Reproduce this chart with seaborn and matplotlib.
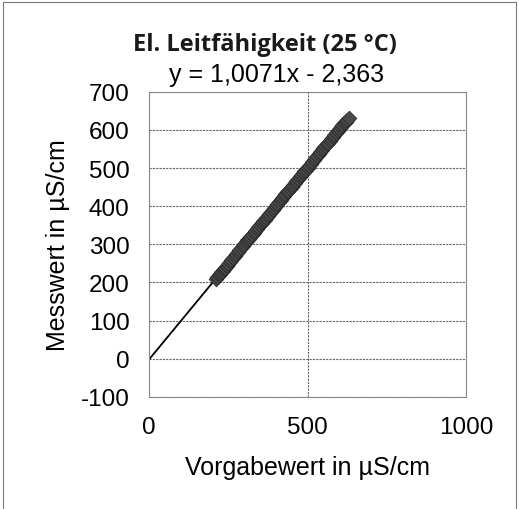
import matplotlib
matplotlib.use("Agg")
import matplotlib.pyplot as plt
import seaborn as sns
import numpy as np
import pandas as pd
from matplotlib.patches import Rectangle

# Data
vorgabe = [212, 216, 220, 224, 228, 232, 236, 240, 245, 250, 255, 260, 265,
           270, 275, 280, 285, 290, 295, 300, 305, 310, 315, 320, 325, 330,
           335, 340, 345, 350, 355, 360, 365, 370, 375, 380, 385, 390, 395,
           400, 405, 410, 415, 420, 425, 430, 435, 440, 445, 450, 455, 460,
           465, 470, 475, 480, 485, 490, 495, 500, 505, 510, 515, 520, 525,
           530, 535, 540, 545, 550, 555, 560, 565, 570, 575, 580, 585, 590,
           595, 600, 605, 610, 615, 620, 625, 630]
messwert = [210, 215, 219, 223, 227, 231, 235, 239, 244, 249, 254, 259, 264,
            269, 274, 280, 285, 290, 295, 300, 305, 310, 315, 320, 325, 330,
            335, 340, 345, 350, 355, 360, 365, 370, 375, 380, 385, 390, 395,
            400, 405, 411, 416, 421, 426, 431, 436, 441, 446, 451, 456, 461,
            466, 471, 476, 481, 486, 491, 496, 501, 506, 511, 516, 521, 527,
            532, 537, 542, 547, 552, 557, 562, 567, 572, 577, 582, 587, 592,
            597, 602, 607, 612, 617, 622, 627, 632]
trend_x = [0, 630]
slope = 1.0071
intercept = -2.363

title = "El. Leitfähigkeit (25 °C)"
equation = "y = 1,0071x - 2,363"
xlabel = "Vorgabewert in µS/cm"
ylabel = "Messwert in µS/cm"
xticks = [0, 500, 1000]
yticks = [-100, 0, 100, 200, 300, 400, 500, 600, 700]

sns.set_theme(style="white")
plt.rcParams['font.family'] = ['Liberation Sans', 'DejaVu Sans']
plt.rcParams['axes.unicode_minus'] = False

fig = plt.figure(figsize=(5.19, 5.10), dpi=100)
ax = fig.add_axes([0.287, 0.220, 0.611, 0.598])

df = pd.DataFrame({"x": vorgabe, "y": messwert})
tx = np.array(trend_x, dtype=float)
tdf = pd.DataFrame({"x": tx, "y": slope * tx + intercept})

sns.lineplot(data=tdf, x="x", y="y", ax=ax, color="black", linewidth=1.3, zorder=2)
sns.scatterplot(data=df, x="x", y="y", ax=ax, marker="D", s=55, color="#4a4a4a",
                edgecolor="#2a2a2a", linewidth=0.6, zorder=3)

ax.set_xlim(0, 1000)
ax.set_ylim(-100, 700)
ax.set_xticks(xticks)
ax.set_yticks(yticks)
ax.grid(True, color="#666666", linewidth=0.8, linestyle=(0, (2, 1)))
ax.set_axisbelow(True)
for s in ax.spines.values():
    s.set_color("#888888")
    s.set_linewidth(0.8)
ax.tick_params(axis="both", labelsize=17.5, length=0, pad=14, colors="black")
ax.set_xlabel(xlabel, fontsize=18, labelpad=12, color="black")
ax.set_ylabel(ylabel, fontsize=18, labelpad=8, color="black")

fig.text(0.511, 0.912, title, ha="center", va="center", fontsize=17,
         fontweight="bold", family=["Open Sans", "DejaVu Sans"], color="#1a1a1a")
fig.text(0.532, 0.853, equation, ha="center", va="center", fontsize=18, color="black")

fig.patches.append(Rectangle((0.006, -0.01), 0.988, 1.004, transform=fig.transFigure,
                             fill=False, edgecolor="#777777", linewidth=0.8))

fig.savefig("out.png", dpi=100, facecolor="white")
